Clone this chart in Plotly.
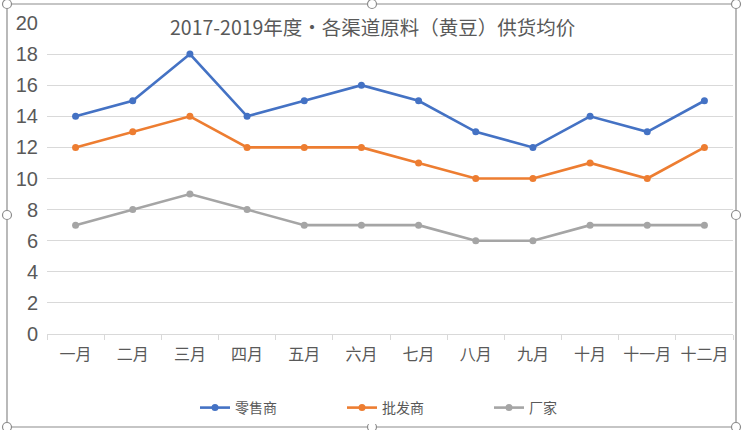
import plotly.graph_objects as go

months = ["一月", "二月", "三月", "四月", "五月", "六月", "七月", "八月", "九月", "十月", "十一月", "十二月"]
retail = [14, 15, 18, 14, 15, 16, 15, 13, 12, 14, 13, 15]
wholesale = [12, 13, 14, 12, 12, 12, 11, 10, 10, 11, 10, 12]
factory = [7, 8, 9, 8, 7, 7, 7, 6, 6, 7, 7, 7]
series_names = ["零售商", "批发商", "厂家"]
colors = ["#4472C4", "#ED7D31", "#A5A5A5"]

FONT = "Noto Sans CJK SC, sans-serif"
W, H = 743, 430
L, R, T, B = 47, 10, 23, 96
pw, ph = W - L - R, H - T - B

fig = go.Figure()
for name, vals, c in zip(series_names, [retail, wholesale, factory], colors):
    fig.add_trace(go.Scatter(
        x=months, y=vals, name=name, mode="lines+markers",
        line=dict(color=c, width=2.6), marker=dict(color=c, size=7),
    ))

def px(x):
    return (x - L) / pw

def py(y):
    return (H - B - y) / ph

shapes = []
gray = "#8C8C8C"
# frame
shapes.append(dict(type="rect", xref="paper", yref="paper",
                   x0=px(7), x1=px(736), y0=py(427), y1=py(4),
                   line=dict(color=gray, width=1.2), fillcolor="rgba(0,0,0,0)", layer="above"))
for hx in [7, 372, 736]:
    for hy in [4, 215, 427]:
        if hx == 372 and hy == 215:
            continue
        r = 4.5
        shapes.append(dict(type="circle", xref="paper", yref="paper",
                           x0=px(hx - r), x1=px(hx + r), y0=py(hy + r), y1=py(hy - r),
                           line=dict(color=gray, width=1.2), fillcolor="white", layer="above"))

fig.update_layout(
    width=W, height=H,
    margin=dict(l=L, r=R, t=T, b=B, autoexpand=False),
    paper_bgcolor="white", plot_bgcolor="white",
    font=dict(family=FONT, color="#595959"),
    showlegend=True,
    legend=dict(orientation="h", x=px(195), xanchor="left", y=py(408), yanchor="middle",
                font=dict(size=14, color="#595959"),
                tracegroupgap=0, entrywidthmode="pixels", entrywidth=102),
    xaxis=dict(type="category", range=[-0.5, 11.5], showgrid=False, automargin=False,
               showline=True, linecolor="#D9D9D9", linewidth=1,
               ticks="outside", tickson="boundaries", tickcolor="#D9D9D9", ticklen=5,
               tickfont=dict(size=16, color="#595959"), ticklabelstandoff=6, fixedrange=True),
    yaxis=dict(range=[0, 20], dtick=2, showgrid=True, gridcolor="#D9D9D9", gridwidth=1,
               zeroline=False, showline=False, ticks="", automargin=False,
               tickfont=dict(size=20, color="#595959", family="Liberation Sans, sans-serif"),
               ticklabelstandoff=8, fixedrange=True),
    shapes=shapes,
    annotations=[dict(text="2017-2019年度·各渠道原料（黄豆）供货均价", xref="paper", yref="paper",
                      x=px(372), y=py(27), xanchor="center", yanchor="middle", showarrow=False,
                      font=dict(size=19.5, color="#595959", family=FONT), bgcolor="white")],
)

fig.write_html("out.html", config={"displayModeBar": False},
               post_script="document.body.style.margin='0';document.body.style.overflow='hidden';")
